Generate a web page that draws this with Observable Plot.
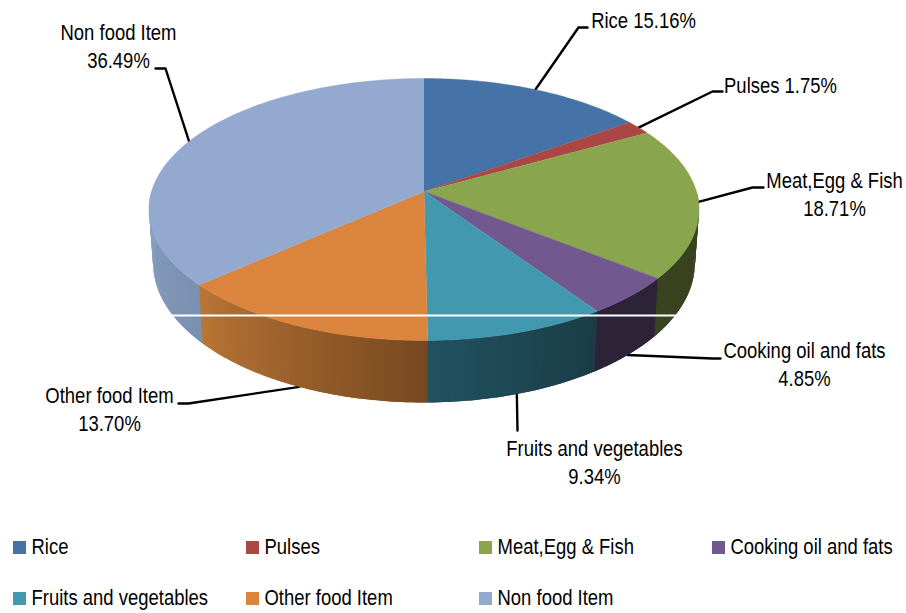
<!DOCTYPE html>
<html>
<head>
<meta charset="utf-8">
<script src="https://cdn.jsdelivr.net/npm/d3@7"></script>
<script src="https://cdn.jsdelivr.net/npm/@observablehq/plot@0.6"></script>
<style>
html,body{margin:0;padding:0;background:#fff}
svg{display:block}
</style>
</head>
<body>
<div id="chart"></div>
<script>
const categories = ["Rice","Pulses","Meat,Egg & Fish","Cooking oil and fats","Fruits and vegetables","Other food Item","Non food Item"];
const shares = [15.16,1.75,18.71,4.85,9.34,13.70,36.49];
const faceColors = ["#4572a7","#aa4643","#89a54e","#71588f","#4198af","#db843d","#93a9cf"];
const wallStart = ["#000","#000","#39431f","#2d2337","#1b3c47","#784820","#7a90b0"];
const wallEnd = ["#000","#000","#39431f","#2d2337","#215261","#b97636","#8aa0c4"];
const labelText = ["Rice 15.16%","Pulses 1.75%","Meat,Egg & Fish\n18.71%","Cooking oil and fats\n4.85%","Fruits and vegetables\n9.34%","Other food Item\n13.70%","Non food Item\n36.49%"];
const labelX = [643,780,834,804,594,109,118];
const labelY = [19,84,193,363,461,408,45];
const elbowX = [578,712,752,712,517,188,165];
const elbowY = [27,91,187,358,430,403,68];
const tailX = [587,722,763,720,517,178,155];
const legendX = [13,246,479,712,13,246,479];
const legendY = [547,547,547,547,598,598,598];

const W = 906, H = 613;
const cx = 423.5, cy = 191, a = 128.5, b = 272.4, k = 0.1374;
const fontFamily = "'Liberation Sans',sans-serif";
const narrow = 0.84;

function topEdge(deg){
  const t = deg*Math.PI/180, u = Math.sin(t), v = -Math.cos(t), d = 1-k*v;
  return [cx+b*u/d, cy+a*v/d];
}
function bottomEdge(deg){
  const [x,y] = topEdge(deg);
  return [cx+(x-cx)*0.985, y+52.4+0.0645*(y-cy)];
}

let acc = 0;
const slices = categories.map((name,i)=>{
  const start = acc*3.6; acc += shares[i]; const end = acc*3.6;
  return {name,i,start,end,mid:(start+end)/2};
});

const facePts = [];
for(const s of slices){
  facePts.push({id:s.i,x:cx,y:cy,fill:faceColors[s.i]});
  const n = Math.max(2,Math.ceil(s.end-s.start));
  for(let j=0;j<=n;j++){
    const [x,y] = topEdge(s.start+(s.end-s.start)*j/n);
    facePts.push({id:s.i,x,y,fill:faceColors[s.i]});
  }
}

const wallPts = [];
let band = 0;
for(const s of slices){
  const lo = Math.max(s.start,90), hi = Math.min(s.end,270);
  if(hi<=lo) continue;
  const n = Math.ceil(hi-lo);
  const mix = d3.interpolateRgb(wallStart[s.i],wallEnd[s.i]);
  for(let j=0;j<n;j++){
    const t0 = lo+(hi-lo)*j/n, t1 = lo+(hi-lo)*(j+1)/n, c = mix(((t0+t1)/2-lo)/(hi-lo));
    const t2 = Math.min(t1+1,270);
    const ring = [topEdge(t0),topEdge((t0+t2)/2),topEdge(t2),bottomEdge(t2),bottomEdge((t0+t2)/2),bottomEdge(t0)];
    for(const [x,y] of ring) wallPts.push({id:band,x,y,fill:c});
    band++;
  }
}

const anchorOnBottom = [false,false,false,true,true,true,false];
const leaderPts = [];
slices.forEach(s=>{
  const [x,y] = anchorOnBottom[s.i] ? bottomEdge(s.mid) : topEdge(s.mid);
  leaderPts.push({id:s.i,x,y},{id:s.i,x:elbowX[s.i],y:elbowY[s.i]},{id:s.i,x:tailX[s.i],y:elbowY[s.i]});
});

const labels = labelText.map((text,i)=>({text,x:labelX[i],y:labelY[i]}));
const legend = categories.map((name,i)=>({name,x:legendX[i],y:legendY[i],fill:faceColors[i]}));

// The reference's type is a condensed sans: squeeze real text horizontally about its anchor.
const squeeze = (index,scales,values,dims,context,next)=>{
  const g = next(index,scales,values,dims,context);
  g.querySelectorAll("text").forEach(t=>t.setAttribute("transform",(t.getAttribute("transform")||"")+` scale(${narrow},1)`));
  return g;
};

const plot = Plot.plot({
  width:W,height:H,margin:0,
  style:{background:"#fff",fontFamily},
  x:{axis:null,domain:[0,W],range:[0,W]},
  y:{axis:null,domain:[0,H],range:[0,H]},
  color:{type:"identity"},
  marks:[
    Plot.line(leaderPts,{x:"x",y:"y",z:"id",stroke:"#000",strokeWidth:2.4,fill:"none"}),
    Plot.line(wallPts,{x:"x",y:"y",z:"id",fill:"fill",stroke:"none"}),
    Plot.line(facePts,{x:"x",y:"y",z:"id",fill:"fill",stroke:"fill",strokeWidth:0.5}),
    Plot.ruleY([315],{x1:172,x2:676,stroke:"#fff",strokeWidth:2}),
    Plot.text(labels,{x:"x",y:"y",text:"text",fontSize:22,lineHeight:1.27,fill:"#000",fontFamily,render:squeeze}),
    Plot.rect(legend,{x1:d=>d.x,x2:d=>d.x+13,y1:d=>d.y-6,y2:d=>d.y+7,fill:"fill"}),
    Plot.text(legend,{x:d=>d.x+18,y:d=>d.y-1,text:"name",textAnchor:"start",fontSize:22,fill:"#000",fontFamily,render:squeeze})
  ]
});
document.getElementById("chart").append(plot);
</script>
</body>
</html>
